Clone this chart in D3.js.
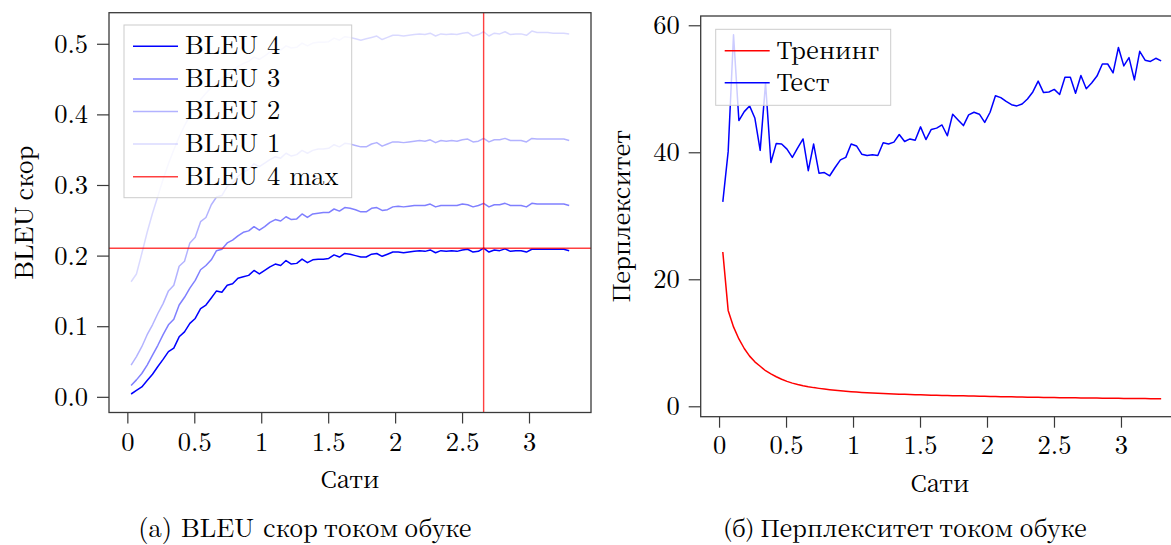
<!DOCTYPE html>
<html>
<head>
<meta charset="utf-8">
<script src="https://cdn.jsdelivr.net/npm/d3@7"></script>
<style>
  html, body { margin: 0; padding: 0; background: #fff; }
  svg { display: block; }
</style>
</head>
<body>
<svg id="chart" width="1171" height="545"></svg>
<script>
// Training checkpoints, in epochs (shared by both panels)
const epochs = [
  0.028,0.068,0.108,0.148,0.188,0.228,0.267,0.307,0.347,0.387,
  0.427,0.467,0.507,0.547,0.587,0.627,0.666,0.706,0.746,0.786,
  0.826,0.866,0.906,0.946,0.986,1.026,1.065,1.105,1.145,1.185,
  1.225,1.265,1.305,1.345,1.385,1.425,1.464,1.504,1.544,1.584,
  1.624,1.664,1.704,1.744,1.784,1.824,1.863,1.903,1.943,1.983,
  2.023,2.063,2.103,2.143,2.183,2.223,2.262,2.302,2.342,2.382,
  2.422,2.462,2.502,2.542,2.582,2.622,2.661,2.701,2.741,2.781,
  2.821,2.861,2.901,2.941,2.981,3.021,3.060,3.100,3.140,3.180,
  3.220,3.260,3.300
];

// BLEU scores on the validation set
const bleu4 = [
  0.004,0.009,0.014,0.023,0.032,0.043,0.053,0.064,0.069,0.085,
  0.092,0.104,0.111,0.125,0.130,0.140,0.150,0.148,0.158,0.160,
  0.168,0.170,0.172,0.179,0.174,0.179,0.184,0.188,0.186,0.193,
  0.188,0.189,0.195,0.190,0.194,0.195,0.195,0.196,0.201,0.198,
  0.203,0.202,0.200,0.198,0.198,0.202,0.203,0.199,0.202,0.205,
  0.205,0.204,0.205,0.206,0.207,0.206,0.208,0.204,0.207,0.206,
  0.207,0.206,0.208,0.209,0.205,0.206,0.2105,0.205,0.208,0.207,
  0.2095,0.206,0.207,0.207,0.205,0.209,0.209,0.209,0.209,0.209,
  0.209,0.209,0.207
];
const bleu3 = [
  0.016,0.024,0.033,0.045,0.059,0.073,0.088,0.102,0.110,0.130,
  0.141,0.154,0.165,0.180,0.186,0.194,0.207,0.209,0.218,0.222,
  0.228,0.233,0.235,0.241,0.236,0.241,0.247,0.251,0.249,0.255,
  0.251,0.252,0.259,0.254,0.259,0.260,0.261,0.261,0.266,0.263,
  0.268,0.267,0.265,0.262,0.262,0.267,0.268,0.264,0.265,0.269,
  0.270,0.269,0.270,0.271,0.271,0.271,0.273,0.269,0.271,0.271,
  0.271,0.271,0.273,0.272,0.269,0.271,0.274,0.269,0.272,0.272,
  0.274,0.271,0.271,0.271,0.269,0.274,0.273,0.273,0.273,0.273,
  0.273,0.273,0.271
];
const bleu2 = [
  0.045,0.057,0.071,0.088,0.102,0.118,0.132,0.150,0.158,0.185,
  0.192,0.218,0.226,0.248,0.254,0.272,0.283,0.285,0.298,0.303,
  0.312,0.318,0.322,0.330,0.326,0.331,0.336,0.340,0.338,0.345,
  0.341,0.343,0.349,0.345,0.349,0.351,0.351,0.352,0.357,0.354,
  0.359,0.358,0.356,0.354,0.354,0.358,0.360,0.355,0.358,0.361,
  0.361,0.360,0.361,0.362,0.363,0.362,0.364,0.360,0.363,0.362,
  0.363,0.362,0.364,0.365,0.361,0.362,0.366,0.361,0.364,0.364,
  0.366,0.363,0.363,0.363,0.361,0.366,0.365,0.365,0.365,0.365,
  0.365,0.365,0.363
];
const bleu1 = [
  0.163,0.174,0.203,0.233,0.260,0.284,0.308,0.330,0.350,0.368,
  0.384,0.398,0.410,0.421,0.430,0.438,0.446,0.450,0.457,0.462,
  0.468,0.472,0.475,0.481,0.478,0.483,0.488,0.492,0.491,0.497,
  0.494,0.495,0.501,0.497,0.501,0.502,0.502,0.503,0.508,0.505,
  0.510,0.509,0.507,0.505,0.507,0.509,0.511,0.506,0.509,0.512,
  0.512,0.511,0.512,0.513,0.514,0.513,0.515,0.511,0.514,0.513,
  0.514,0.513,0.515,0.516,0.511,0.513,0.517,0.511,0.515,0.514,
  0.517,0.513,0.514,0.514,0.512,0.518,0.516,0.516,0.516,0.515,
  0.515,0.515,0.514
];

// Perplexity on the training and test sets
const trainPpl = [
  24.3,15.1,12.5,10.6,9.1,7.9,7.0,6.3,5.6,5.1,
  4.65,4.25,3.92,3.65,3.43,3.24,3.08,2.94,2.82,2.71,
  2.61,2.52,2.44,2.37,2.30,2.24,2.19,2.14,2.09,2.05,
  2.01,1.97,1.94,1.91,1.88,1.85,1.82,1.80,1.77,1.75,
  1.73,1.71,1.69,1.67,1.65,1.64,1.62,1.61,1.59,1.58,
  1.56,1.54,1.52,1.51,1.49,1.47,1.46,1.44,1.43,1.41,
  1.40,1.39,1.37,1.36,1.35,1.34,1.33,1.32,1.31,1.30,
  1.29,1.28,1.27,1.26,1.25,1.24,1.23,1.22,1.22,1.21,
  1.20,1.20,1.19
];
const testPpl = [
  32.2,40.1,58.5,45.0,46.4,47.3,45.4,40.3,50.9,38.4,
  41.4,41.3,40.5,39.2,40.7,42.1,37.1,41.3,36.7,36.8,
  36.3,37.6,38.8,39.2,41.3,41.0,39.7,39.5,39.6,39.5,
  41.5,41.3,41.6,42.8,41.7,42.1,41.9,44.0,42.0,43.6,
  43.8,44.3,42.6,46.0,45.1,44.2,45.9,46.3,46.0,44.7,
  46.3,48.9,48.6,48.0,47.5,47.3,47.6,48.4,49.5,51.2,
  49.4,49.5,49.9,49.1,51.8,51.8,49.3,52.1,50.0,50.9,
  52.0,53.9,53.9,52.5,56.5,53.6,54.9,51.4,55.9,54.5,
  54.3,54.8,54.4
];

// Tick values
const xTicks = [0, 0.5, 1, 1.5, 2, 2.5, 3];
const bleuTicks = [0, 0.1, 0.2, 0.3, 0.4, 0.5];
const pplTicks = [0, 20, 40, 60];

const FRAME = "#3a3a3a";
const svg = d3.select("#chart");

// Latin text and numerals in Latin Modern, Cyrillic in a serif face that carries it
const latin = sel => sel.style("font-family", '"Latin Modern Roman"').style("font-size", "26.5px").attr("fill", "#000");
const cyr = sel => sel.style("font-family", '"Noto Serif CJK SC"').style("font-size", "23.5px").attr("fill", "#000");

// text built from runs: [[string, isCyrillic], ...]
function label(parent, runs) {
  const t = parent.append("text");
  if (runs.length === 1) {
    t.text(runs[0][0]);
    (runs[0][1] ? cyr : latin)(t);
    return t;
  }
  runs.forEach(([s, isCyr]) => {
    const sp = t.append("tspan").text(s);
    (isCyr ? cyr : latin)(sp);
  });
  return t;
}

// ---------- helpers ----------
function styleAxis(g) {
  g.select(".domain").remove();
  g.attr("font-family", null).attr("font-size", null);
  g.selectAll(".tick line").attr("stroke", FRAME).attr("stroke-width", 1.2);
  g.selectAll(".tick text").call(latin);
}

function drawAxes(box, x, y, yTicks, yFmt, tickBase) {
  svg.append("g")
    .attr("transform", `translate(0,${box.bottom})`)
    .call(d3.axisBottom(x).tickValues(xTicks).tickFormat(d3.format("")).tickSize(11).tickSizeOuter(0))
    .call(styleAxis)
    .call(g => g.selectAll(".tick text").attr("y", tickBase).attr("dy", null));

  svg.append("g")
    .attr("transform", `translate(${box.left},0)`)
    .call(d3.axisLeft(y).tickValues(yTicks).tickFormat(yFmt).tickSize(12).tickPadding(9).tickSizeOuter(0))
    .call(styleAxis);
}

function frame(box) {
  svg.append("rect")
    .attr("x", box.left).attr("y", box.top)
    .attr("width", box.right - box.left).attr("height", box.bottom - box.top)
    .attr("fill", "none").attr("stroke", FRAME).attr("stroke-width", 1.3);
}

function legend(x0, y0, w, h, items, lineY0, step) {
  const g = svg.append("g");
  g.append("rect")
    .attr("x", x0).attr("y", y0).attr("width", w).attr("height", h)
    .attr("fill", "#fff").attr("fill-opacity", 0.8)
    .attr("stroke", "#cccccc").attr("stroke-width", 1);
  items.forEach((it, k) => {
    const ly = lineY0 + k * step;
    g.append("line")
      .attr("x1", x0 + 9).attr("x2", x0 + 54).attr("y1", ly).attr("y2", ly)
      .attr("stroke", it.color).attr("stroke-opacity", it.opacity)
      .attr("stroke-width", 1.5);
    label(g, [[it.label, it.cyr]])
      .attr("x", x0 + 61).attr("y", ly + 7.8);
  });
}

// ---------- left panel: BLEU ----------
const L = { left: 109, right: 591, top: 12.7, bottom: 412.5 };
const xL = d3.scaleLinear().domain([-0.137, 3.463]).range([L.left, L.right]);
const yL = d3.scaleLinear().domain([-0.0222, 0.544]).range([L.bottom, L.top]);

drawAxes(L, xL, yL, bleuTicks, d3.format(".1f"), 38.5);

const bleuSeries = [
  { label: "BLEU 4", values: bleu4, color: "#0000ff", opacity: 1 },
  { label: "BLEU 3", values: bleu3, color: "#0000ff", opacity: 0.5 },
  { label: "BLEU 2", values: bleu2, color: "#0000ff", opacity: 0.3 },
  { label: "BLEU 1", values: bleu1, color: "#0000ff", opacity: 0.15 }
];

const lineL = d3.line().x(d => xL(d[0])).y(d => yL(d[1]));
bleuSeries.slice().reverse().forEach(s => {
  svg.append("path")
    .datum(epochs.map((e, i) => [e, s.values[i]]))
    .attr("d", lineL)
    .attr("fill", "none")
    .attr("stroke", s.color)
    .attr("stroke-opacity", s.opacity)
    .attr("stroke-width", 1.5)
    .attr("stroke-linejoin", "round");
});

// best BLEU 4 checkpoint: crosshair
const bestIdx = d3.maxIndex(bleu4);
const bestEpoch = epochs[bestIdx];
const bestBleu = bleu4[bestIdx];
svg.append("line")
  .attr("x1", L.left).attr("x2", L.right)
  .attr("y1", yL(bestBleu)).attr("y2", yL(bestBleu))
  .attr("stroke", "#ff0000").attr("stroke-opacity", 0.75).attr("stroke-width", 1.4);
svg.append("line")
  .attr("x1", xL(bestEpoch)).attr("x2", xL(bestEpoch))
  .attr("y1", L.top).attr("y2", L.bottom)
  .attr("stroke", "#ff0000").attr("stroke-opacity", 0.75).attr("stroke-width", 1.4);

frame(L);

legend(124, 25, 227.7, 172.7,
  bleuSeries.map(s => ({ label: s.label, color: s.color, opacity: s.opacity, cyr: false }))
    .concat([{ label: "BLEU 4 max", color: "#ff0000", opacity: 0.75, cyr: false }]),
  46.3, 32.6);

label(svg, [["BLEU", false], [" скор", true]])
  .attr("transform", `translate(32.5,${(L.top + L.bottom) / 2}) rotate(-90)`)
  .attr("text-anchor", "middle");
label(svg, [["Сати", true]])
  .attr("x", (L.left + L.right) / 2).attr("y", 488)
  .attr("text-anchor", "middle");
label(svg, [["(a) BLEU ", false], ["скор током обуке", true]])
  .attr("x", 305).attr("y", 536.5)
  .attr("text-anchor", "middle");

// ---------- right panel: perplexity ----------
const R = { left: 700.7, right: 1183, top: 16, bottom: 416.7 };
const xR = d3.scaleLinear().domain([-0.137, 3.463]).range([R.left, R.right]);
const yR = d3.scaleLinear().domain([-1.64, 61.46]).range([R.bottom, R.top]);

drawAxes(R, xR, yR, pplTicks, d3.format("d"), 37.5);

const lineR = d3.line().x(d => xR(d[0])).y(d => yR(d[1]));
const pplSeries = [
  { label: "Тренинг", values: trainPpl, color: "#ff0000", opacity: 1, cyr: true },
  { label: "Тест", values: testPpl, color: "#0000ff", opacity: 1, cyr: true }
];
pplSeries.forEach(s => {
  svg.append("path")
    .datum(epochs.map((e, i) => [e, s.values[i]]))
    .attr("d", lineR)
    .attr("fill", "none")
    .attr("stroke", s.color)
    .attr("stroke-width", 1.5)
    .attr("stroke-linejoin", "round");
});

frame(R);

legend(715.7, 29.3, 175, 76, pplSeries, 50.7, 32);

label(svg, [["Перплекситет", true]])
  .attr("transform", `translate(630,${(R.top + R.bottom) / 2}) rotate(-90)`)
  .attr("text-anchor", "middle");
label(svg, [["Сати", true]])
  .attr("x", 940).attr("y", 492)
  .attr("text-anchor", "middle");
label(svg, [["(б) Перплекситет током обуке", true]])
  .attr("x", 905).attr("y", 537)
  .attr("text-anchor", "middle");
</script>
</body>
</html>
